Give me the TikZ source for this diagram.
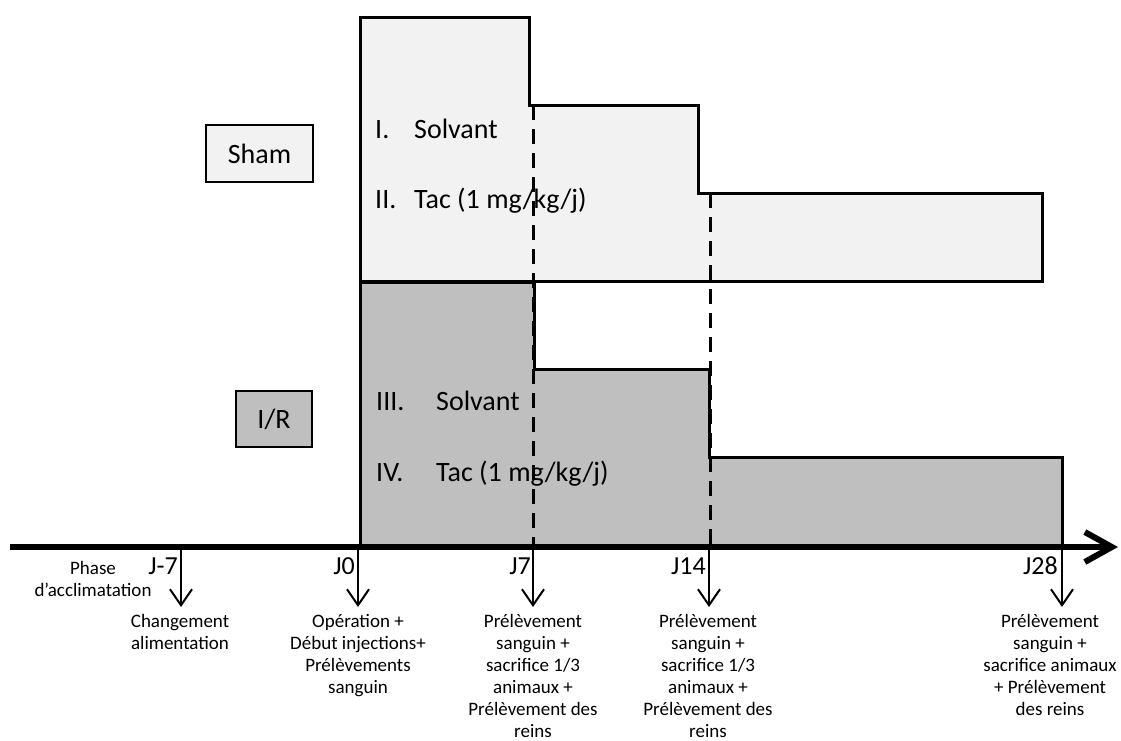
\documentclass[tikz,border=0pt]{standalone}
\usepackage{fontspec}
\setmainfont{Carlito}
\usetikzlibrary{arrows.meta}
\definecolor{shamfill}{HTML}{F2F2F2}
\definecolor{irfill}{HTML}{BFBFBF}
\begin{document}
\begin{tikzpicture}[x=1pt,y=-1pt,
 region/.style={draw=black,line width=3pt,line join=miter},
 grouplabel/.style={draw=black,line width=1.5pt,font=\fontsize{28}{34}\selectfont,inner sep=0pt},
 big/.style={font=\fontsize{28}{34}\selectfont,inner sep=0pt,anchor=base west},
 daylabel/.style={font=\fontsize{26}{30}\selectfont,inner sep=0pt,anchor=base east},
 note/.style={font=\fontsize{19}{22}\selectfont,align=center,inner sep=0pt,anchor=north},
 tickarrow/.style={line width=2pt,-{Straight Barb[length=16pt,width=22pt]}},
 guide/.style={line width=3pt,dash pattern=on 15pt off 9pt},
 axisline/.style={line width=6pt,-{Straight Barb[length=27pt,width=30pt]}}]
\useasboundingbox (0,0) rectangle (1121,740);

% regions
\draw[region,fill=shamfill] (360,17) -- (529,17) -- (529,105) -- (698,105) -- (698,193) -- (1042,193) -- (1042,281) -- (360,281) -- cycle;
\draw[region,fill=irfill] (360,282) -- (534,282) -- (534,369) -- (709,369) -- (709,457) -- (1062,457) -- (1062,547) -- (360,547) -- cycle;

% group boxes
\node[grouplabel,fill=shamfill,minimum width=107pt,minimum height=57pt] (sham) at (259.5,153.5) {Sham};
\node[grouplabel,fill=irfill,minimum width=76pt,minimum height=56pt] (ir) at (274,419) {I/R};

% treatments
\node[big] (n1) at (375,138) {I.};
\node[big] (t1) at (414,138) {Solvant};
\node[big] (n2) at (375,208) {II.};
\node[big] (t2) at (414,208) {Tac (1 mg/kg/j)};
\node[big] (n3) at (376,410) {III.};
\node[big] (t3) at (436,410) {Solvant};
\node[big] (n4) at (376,481) {IV.};
\node[big] (t4) at (436,481) {Tac (1 mg/kg/j)};

% dashed guides
\coordinate (g7t) at (533,105);
\coordinate (g7b) at (533,547);
\coordinate (g14t) at (710,193);
\coordinate (g14b) at (710,547);
\draw[guide] (g7t) -- (g7b);
\draw[guide] (g14t) -- (g14b);

% axis
\coordinate (axs) at (10,547);
\coordinate (axe) at (1118,547);
\draw[axisline] (axs) -- (axe);

% ticks
\foreach \n/\x in {m7/181,d0/358,d7/533,d14/709,d28/1062}{
  \coordinate (\n s) at (\x,547);
  \coordinate (\n e) at (\x,607);
  \draw[tickarrow] (\n s) -- (\n e);
}

% day labels
\node[daylabel] (lm7) at (178,574) {J-7};
\node[daylabel] (l0) at (355,574) {J0};
\node[daylabel] (l7) at (531,574) {J7};
\node[daylabel] (l14) at (706,574) {J14};
\node[daylabel] (l28) at (1058,574) {J28};

% notes
\node[note] (phase) at (93,561) {Phase\\d’acclimatation};
\node[note] (cm7) at (180,614) {Changement\\alimentation};
\node[note] (c0) at (358,614) {Opération +\\Début injections+\\Prélèvements\\sanguin};
\node[note] (c7) at (533,614) {Prélèvement\\sanguin +\\sacrifice 1/3\\animaux +\\Prélèvement des\\reins};
\node[note] (c14) at (708,614) {Prélèvement\\sanguin +\\sacrifice 1/3\\animaux +\\Prélèvement des\\reins};
\node[note] (c28) at (1050,614) {Prélèvement\\sanguin +\\sacrifice animaux\\+ Prélèvement\\des reins};
\end{tikzpicture}
\end{document}
